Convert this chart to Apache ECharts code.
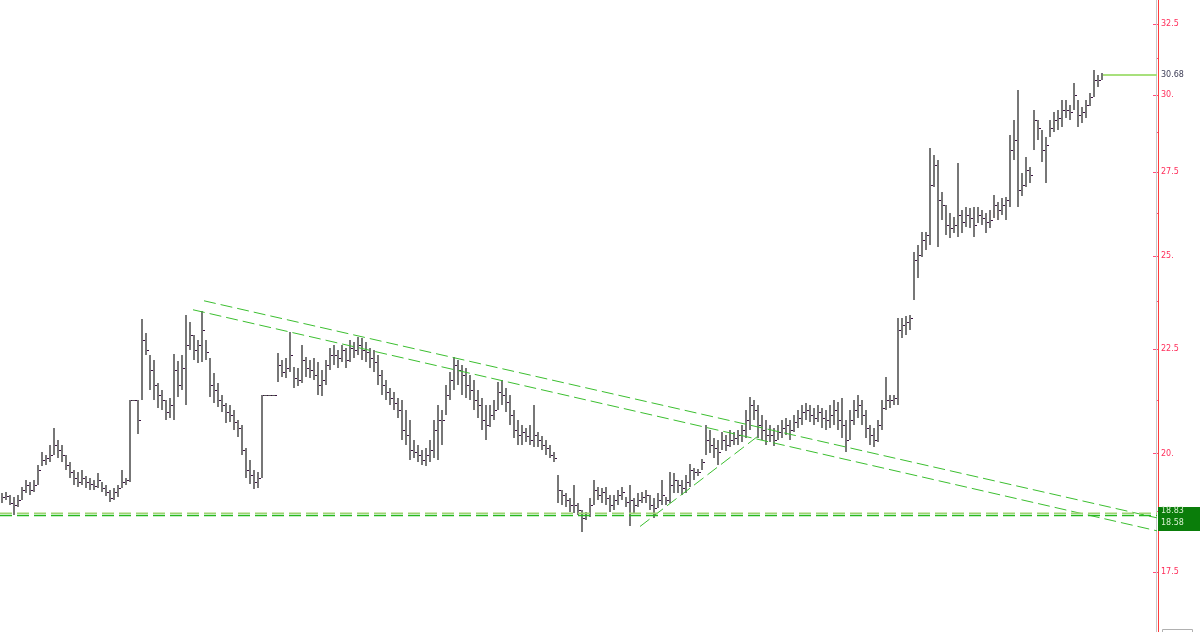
<!DOCTYPE html>
<html><head><meta charset="utf-8">
<script src="https://cdn.jsdelivr.net/npm/echarts@6/dist/echarts.min.js"></script>
<style>html,body{margin:0;padding:0;background:#fff}#c{width:1200px;height:632px}</style>
</head><body><div id="c"></div>
<script>
// ---- data (prices) ----
const highs = [
19.13,19.16,19.09,19.05,19.09,19.26,19.41,19.37,19.41,19.74,
20.03,19.97,20.20,20.59,20.31,20.20,19.97,19.81,19.63,19.59,
19.63,19.50,19.45,19.41,19.56,19.37,19.31,19.20,19.24,19.31,
19.63,19.45,21.25,21.26,21.25,23.28,22.92,22.36,22.23,21.67,
21.49,21.25,21.30,22.38,22.21,22.36,23.40,23.20,22.87,22.74,
23.50,22.74,22.28,21.91,21.67,21.37,21.18,21.13,21.01,20.78,
20.66,20.13,19.86,19.63,19.59,21.37,21.38,21.38,21.38,22.41,
22.23,22.28,22.95,22.06,22.03,22.62,22.31,22.23,22.28,22.18,
21.98,22.23,22.54,22.62,22.49,22.62,22.54,22.74,22.69,22.82,
22.79,22.69,22.54,22.49,22.36,21.98,21.74,21.54,21.44,21.30,
21.25,21.01,20.78,20.31,20.20,20.08,20.13,20.31,20.78,21.13,
21.01,21.61,21.93,22.31,22.23,22.11,22.03,21.86,21.74,21.49,
21.30,21.13,21.13,21.25,21.69,21.74,21.54,21.37,21.01,20.78,
20.66,20.59,20.66,21.13,20.50,20.40,20.31,20.20,20.03,19.52,
19.20,19.13,19.03,19.31,18.92,18.77,18.73,19.03,19.41,19.26,
19.24,19.26,19.09,19.09,19.20,19.26,19.05,19.31,19.03,19.13,
19.16,19.20,19.09,19.03,19.13,19.41,19.05,19.59,19.56,19.41,
19.41,19.52,19.77,19.68,19.65,19.88,20.66,20.54,20.36,20.31,
20.50,20.43,20.54,20.50,20.54,20.66,21.01,21.32,21.25,21.13,
20.89,20.78,20.66,20.59,20.66,20.78,20.82,20.78,20.89,21.01,
21.13,21.18,21.13,21.06,21.13,21.06,21.01,21.13,21.25,21.20,
21.30,20.78,21.01,21.25,21.37,21.25,21.01,20.66,20.59,20.78,
21.25,21.81,21.37,21.37,23.31,23.31,23.36,23.40,25.12,25.32,
25.70,25.70,28.25,28.03,27.87,26.88,26.49,26.25,26.13,27.78,
26.34,26.43,26.40,26.43,26.43,26.34,26.25,26.34,26.79,26.58,
26.70,26.73,28.67,29.16,30.16,27.47,27.97,27.65,29.49,29.16,
28.83,28.60,29.16,29.42,29.49,29.82,29.82,29.65,30.40,29.82,
29.59,29.82,30.06,30.86,30.68,30.75];
const lows = [
18.92,18.98,18.88,18.67,18.84,18.98,19.13,19.09,19.16,19.31,
19.72,19.74,19.81,19.97,19.90,19.81,19.63,19.45,19.31,19.26,
19.31,19.24,19.20,19.20,19.24,19.16,19.07,18.94,18.98,19.05,
19.24,19.31,19.37,21.24,20.45,21.25,22.36,21.49,21.25,21.06,
21.01,20.78,20.82,20.78,21.32,21.49,21.13,22.49,22.23,22.16,
22.18,22.23,21.32,21.18,21.08,20.96,20.71,20.73,20.54,20.38,
19.97,19.45,19.33,19.22,19.24,19.45,21.36,21.36,21.36,21.69,
21.81,21.79,21.93,21.54,21.59,21.67,21.81,21.79,21.74,21.37,
21.35,21.61,21.98,22.11,22.03,22.18,22.03,22.18,22.28,22.36,
22.23,22.18,22.03,21.93,21.61,21.37,21.25,21.13,21.01,20.82,
20.31,20.20,19.86,19.90,19.81,19.74,19.72,19.81,19.90,19.86,
20.20,20.89,21.25,21.49,21.61,21.37,21.30,21.25,21.01,20.82,
20.54,20.31,20.61,20.78,21.01,21.13,20.96,20.66,20.36,20.20,
20.20,20.27,20.20,20.15,20.15,20.08,19.97,19.90,19.81,18.92,
18.88,18.84,18.73,18.71,18.67,18.31,18.56,18.62,18.88,18.98,
18.92,18.88,18.73,18.77,18.88,18.98,18.84,18.42,18.71,18.84,
18.92,18.92,18.77,18.60,18.81,18.88,18.88,18.92,19.13,19.13,
19.09,19.13,19.26,19.41,19.50,19.63,19.97,20.01,19.90,19.74,
20.08,20.06,20.15,20.20,20.20,20.27,20.36,20.54,20.78,20.36,
20.31,20.20,20.27,20.17,20.31,20.36,20.43,20.31,20.50,20.59,
20.66,20.78,20.73,20.66,20.73,20.59,20.54,20.59,20.66,20.54,
20.36,20.03,20.31,20.66,20.82,20.66,20.36,20.20,20.15,20.27,
20.54,21.01,21.06,21.13,21.13,22.79,22.87,23.00,23.79,24.39,
24.98,25.18,25.32,27.03,25.26,26.05,25.61,25.52,25.66,25.55,
25.66,25.84,25.81,25.55,25.96,25.90,25.66,25.81,26.10,26.05,
26.19,26.05,26.43,27.87,26.43,26.76,27.03,27.16,28.19,28.51,
27.81,27.16,28.60,28.77,28.83,28.93,29.22,29.16,29.49,28.93,
29.06,29.22,29.62,29.92,30.26,30.51];
const closes = [
19.05,19.07,18.92,18.88,18.98,19.20,19.31,19.20,19.31,19.63,
19.86,19.90,19.97,20.20,20.08,19.97,19.74,19.59,19.45,19.37,
19.45,19.37,19.33,19.28,19.41,19.24,19.16,19.03,19.16,19.24,
19.37,19.41,21.25,21.25,20.78,22.74,22.49,21.98,21.61,21.37,
21.25,20.96,21.13,21.98,21.61,22.03,22.62,22.87,22.49,22.62,
23.00,22.44,21.61,21.49,21.25,21.13,20.96,20.89,20.73,20.59,
20.08,19.63,19.52,19.37,19.45,21.37,21.37,21.37,21.37,22.11,
21.93,22.03,22.36,21.79,21.74,22.23,22.03,21.98,21.86,21.61,
21.74,22.11,22.36,22.36,22.28,22.49,22.23,22.54,22.49,22.62,
22.49,22.44,22.28,22.18,21.86,21.61,21.44,21.30,21.18,21.01,
20.54,20.43,20.08,20.03,19.97,19.86,19.97,20.08,20.54,20.78,
20.78,21.37,21.74,22.11,21.98,21.86,21.61,21.49,21.25,21.13,
20.78,20.66,20.89,21.01,21.44,21.37,21.20,20.89,20.54,20.43,
20.50,20.40,20.31,20.43,20.31,20.20,20.13,19.97,19.90,19.20,
19.09,18.98,18.88,18.88,18.77,18.60,18.67,18.88,19.20,19.09,
19.16,19.03,18.88,18.98,19.09,19.16,18.94,18.98,18.88,18.98,
19.05,19.09,18.88,18.81,18.98,19.09,18.98,19.31,19.41,19.31,
19.24,19.37,19.63,19.59,19.59,19.81,20.31,20.20,20.13,20.03,
20.31,20.20,20.31,20.36,20.43,20.54,20.78,21.13,21.01,20.66,
20.54,20.43,20.43,20.31,20.50,20.59,20.66,20.54,20.73,20.82,
20.96,21.01,20.89,20.82,20.96,20.82,20.78,20.89,21.01,20.78,
20.66,20.31,20.78,21.01,21.13,20.89,20.59,20.43,20.31,20.66,
21.06,21.25,21.25,21.30,23.00,23.13,23.21,23.31,24.89,25.03,
25.46,25.61,27.10,27.72,26.64,26.49,25.90,25.81,25.90,26.19,
25.99,26.19,26.10,25.90,26.19,26.10,25.99,26.05,26.49,26.34,
26.49,26.64,28.19,28.51,26.94,27.10,27.56,27.41,29.16,28.90,
28.19,28.35,28.90,29.16,29.22,29.49,29.49,29.42,29.99,29.32,
29.42,29.65,29.92,30.51,30.51,30.68];

const yTicks = [17.5, 20, 22.5, 25, 27.5, 30, 32.5];
const yMinorTicks = [18.75, 21.25, 23.75, 26.25, 28.75, 31.25];
const yRange = [16.35, 33.39];
const slotCount = 289;              // bar slots incl. empty space on the right
const upperTrend = [[50.5, 23.77], [288.75, 18.60]];
const lowerTrend = [[47.75, 23.53], [288.75, 18.33]];
const risingTrend = [[159.5, 18.42], [189, 20.40]];
const supportLevels = [18.70, 18.65];
const lastPrice = 30.68;
const lastPriceFrom = 275.25;
const boxLabels = [18.83, 18.58];

const L = Math.log;
const fmt = v => { const p = Math.round(Math.exp(v) * 100) / 100; return (p % 1 === 0) ? p + '.' : String(p); };
const bars = highs.map((h, i) => [i, L(lows[i]), L(h), L(closes[i])]);
const toLn = arr => arr.map(p => [p[0], L(p[1])]);
const xEnd = 288.75;

const chart = echarts.init(document.getElementById('c'), null, {renderer: 'canvas'});

function dashLine(data, color, width) {
  return {type: 'line', data: data, symbol: 'none', silent: true, animation: false,
    lineStyle: {color: color, width: width || 1, type: [12, 5]}, z: 3};
}

const option = {
  backgroundColor: '#ffffff',
  animation: false,
  grid: {left: 0, right: 42, top: 0, bottom: 0},
  xAxis: {type: 'value', min: -0.5, max: slotCount, show: false},
  yAxis: [{
    type: 'value', position: 'right', min: L(yRange[0]), max: L(yRange[1]),
    axisLine: {show: true, onZero: false, lineStyle: {color: '#ff3c3c', width: 1}},
    axisTick: {show: true, inside: true, length: 5, customValues: yTicks.map(L), lineStyle: {color: '#ff4d79'}},
    axisLabel: {show: true, customValues: yTicks.map(L), formatter: fmt, color: '#ff2d5a',
      fontSize: 8, fontFamily: 'DejaVu Sans', margin: 3},
    splitLine: {show: false}
  }, {
    type: 'value', position: 'right', min: L(yRange[0]), max: L(yRange[1]),
    axisLine: {show: false, onZero: false},
    axisTick: {show: true, inside: true, length: 2, customValues: yMinorTicks.map(L), lineStyle: {color: '#ff4d79'}},
    axisLabel: {show: false},
    splitLine: {show: false}
  }],
  series: [
    {
      type: 'custom', data: bars, z: 2,
      encode: {x: 0, y: [1, 2, 3]},
      renderItem: function (params, api) {
        const i = api.value(0);
        const hi = api.coord([i, api.value(2)]);
        const lo = api.coord([i, api.value(1)]);
        const cl = api.coord([i, api.value(3)]);
        const cx = Math.round(hi[0]);
        const top = Math.round(hi[1]);
        const h = Math.max(1, Math.round(lo[1]) - top);
        const cy = Math.round(cl[1]);
        const flat = h <= 1;
        return {type: 'group', children: [
          {type: 'rect', shape: {x: flat ? cx - 2 : cx - 1, y: top, width: flat ? 4 : 2, height: h},
            style: {fill: flat ? '#555555' : '#777777'}},
          {type: 'rect', shape: {x: cx + 1, y: cy, width: 2, height: 1}, style: {fill: '#3a1040'}}
        ]};
      }
    },
    dashLine(toLn(upperTrend), '#3cbf30'),
    dashLine(toLn(lowerTrend), '#3cbf30'),
    dashLine(toLn(risingTrend), '#3cbf30'),
    dashLine([[-0.5, L(supportLevels[0])], [xEnd, L(supportLevels[0])]], '#9fd472', 1.5),
    dashLine([[-0.5, L(supportLevels[1])], [xEnd, L(supportLevels[1])]], '#26b81e', 1.5),
    {
      type: 'line', data: [[lastPriceFrom, L(lastPrice)], [xEnd, L(lastPrice)]], symbol: 'none',
      silent: true, z: 4, lineStyle: {color: '#a8e07c', width: 2},
      endLabel: {show: true, formatter: lastPrice.toFixed(2), color: '#3c3c55', fontSize: 8,
        fontFamily: 'DejaVu Sans', distance: 4}
    }
  ]
};
chart.setOption(option);

const y0 = Math.round(chart.convertToPixel({yAxisIndex: 0}, L(boxLabels[0])));
const axisX = 1200 - 42;
chart.setOption({
  graphic: [
    {type: 'rect', left: axisX - 2, top: 0, shape: {width: 1, height: 632}, style: {fill: '#c8c8c8'}, silent: true, z: 1},
    {type: 'rect', left: axisX, top: y0, shape: {width: 1200 - axisX, height: 24}, style: {fill: '#0a7d0a'}, z: 10},
    {type: 'text', left: axisX + 3, top: y0 + 0, style: {text: boxLabels[0].toFixed(2), fill: '#d8f0d0', font: '8px "DejaVu Sans"', textVerticalAlign: 'top'}, z: 11},
    {type: 'text', left: axisX + 3, top: y0 + 12, style: {text: boxLabels[1].toFixed(2), fill: '#d8f0d0', font: '8px "DejaVu Sans"'}, z: 11},
    {type: 'rect', left: 1160, top: 627, shape: {width: 30, height: 10}, style: {fill: 'none', stroke: '#b0b0b0', lineWidth: 1}, z: 10}
  ]
});
</script>
</body></html>
